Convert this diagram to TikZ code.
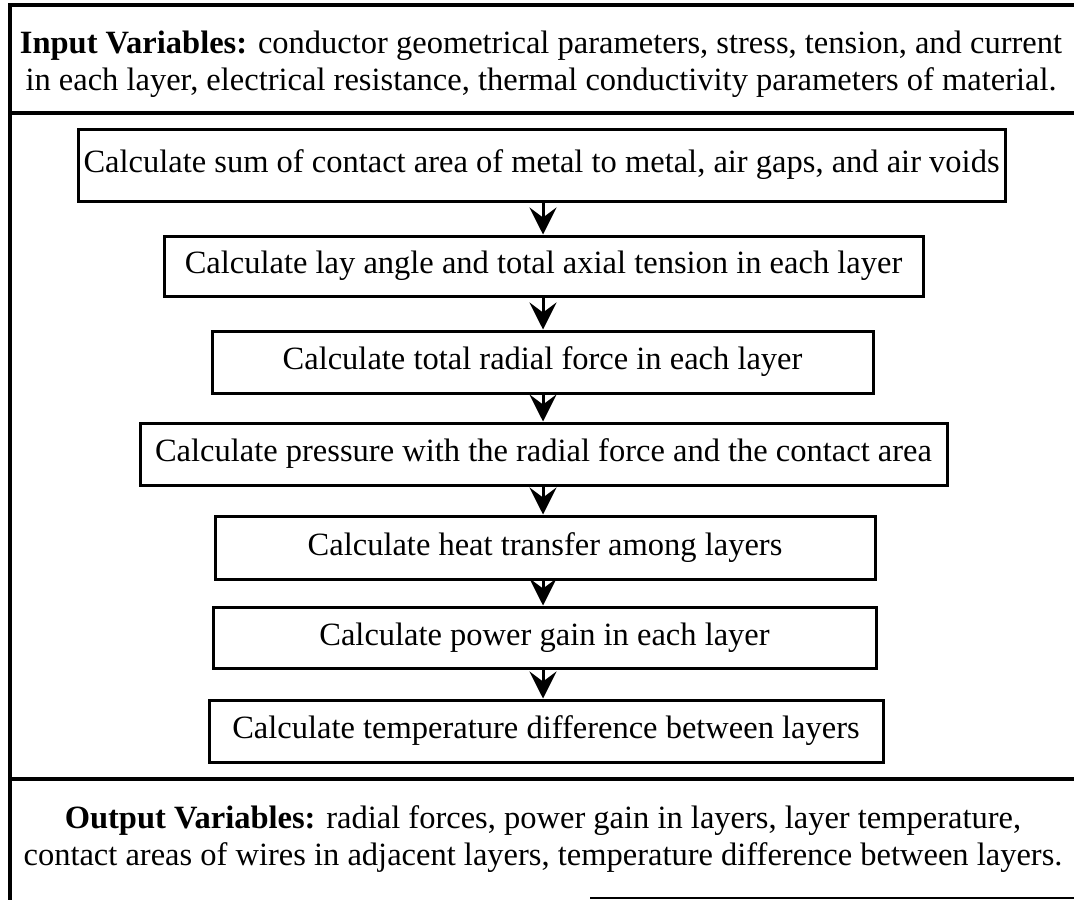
\documentclass[tikz,border=0pt]{standalone}
\usepackage{fontspec}
\setmainfont{Liberation Serif}
\usetikzlibrary{arrows.meta}
\begin{document}
\begin{tikzpicture}[x=1pt,y=-1pt,
  txt/.style={font=\fontsize{32.5}{37}\selectfont},
  stepbox/.style={draw, line width=3pt, inner sep=0pt, txt},
  frame/.style={line width=4pt},
  flow/.style={line width=3pt, -{Stealth[length=27pt,width=27pt,inset=10pt]}},
  vartext/.style={align=center, inner sep=0pt, txt}]
\useasboundingbox (0,0) rectangle (1074,900);
% frame
\draw[frame] (1074,5) -- (10,5) -- (10,900);
\draw[frame] (10,113) -- (1074,113);
\draw[frame] (10,779) -- (1074,779);
\draw[line width=2.5pt] (590,898) -- (1074,898);
% texts
\node[vartext] (inp) at (541,64.5) {\textbf{Input Variables:} conductor geometrical parameters, stress, tension, and current\\in each layer, electrical resistance, thermal conductivity parameters of material.};
\node[vartext] (outp) at (543,839.5) {\textbf{Output Variables:} radial forces, power gain in layers, layer temperature,\\contact areas of wires in adjacent layers, temperature difference between layers.};
% steps
\node[stepbox, minimum width=927pt, minimum height=72pt] (b1) at (541.5,165) {Calculate sum of contact area of metal to metal, air gaps, and air voids};
\node[stepbox, minimum width=759pt, minimum height=60pt] (b2) at (543.5,266) {Calculate lay angle and total axial tension in each layer};
\node[stepbox, minimum width=661pt, minimum height=62pt] (b3) at (542.5,362) {Calculate total radial force in each layer};
\node[stepbox, minimum width=807pt, minimum height=62pt] (b4) at (543.5,454) {Calculate pressure with the radial force and the contact area};
\node[stepbox, minimum width=660pt, minimum height=63pt] (b5) at (545,547.5) {Calculate heat transfer among layers};
\node[stepbox, minimum width=663pt, minimum height=61pt] (b6) at (544.5,637.5) {Calculate power gain in each layer};
\node[stepbox, minimum width=674pt, minimum height=62pt] (b7) at (546,731) {Calculate temperature difference between layers};
% arrows
\coordinate (ax) at (543,0);
\draw[flow] (b1.south -| ax) -- (b2.north -| ax);
\draw[flow] (b2.south -| ax) -- (b3.north -| ax);
\draw[flow] (b3.south -| ax) -- (b4.north -| ax);
\draw[flow] (b4.south -| ax) -- (b5.north -| ax);
\draw[flow] (b5.south -| ax) -- (b6.north -| ax);
\draw[flow] (b6.south -| ax) -- (b7.north -| ax);
\end{tikzpicture}
\end{document}
